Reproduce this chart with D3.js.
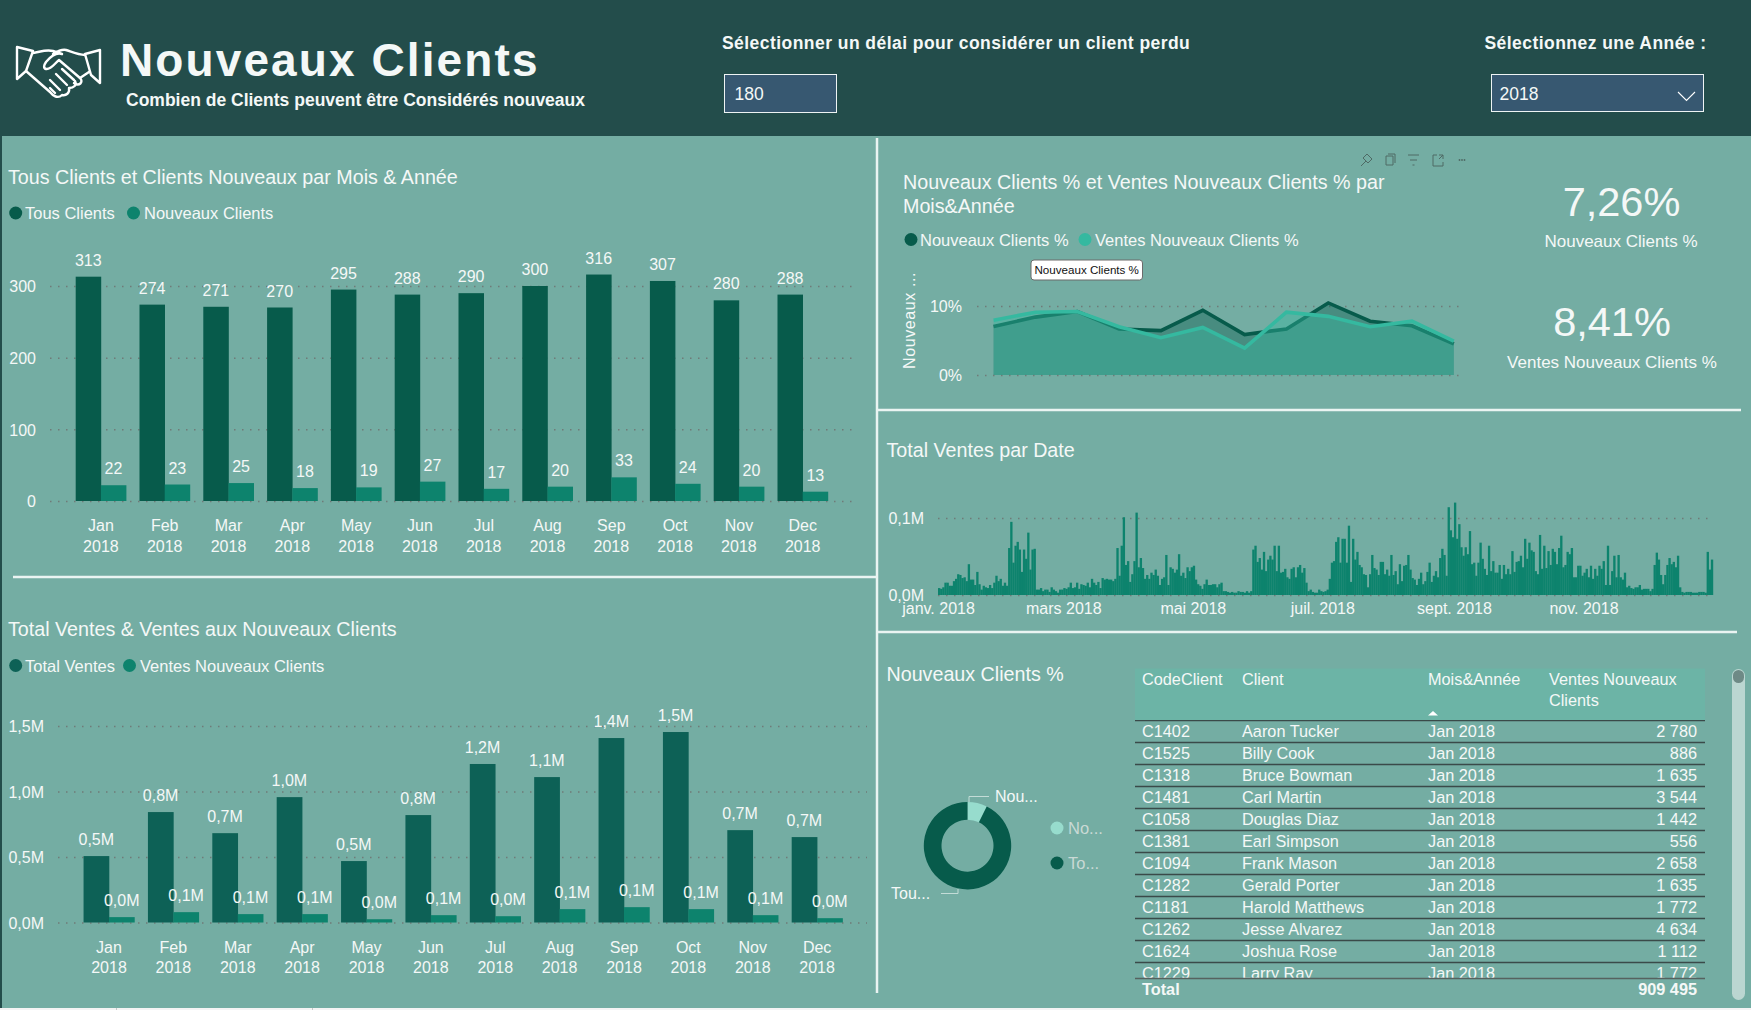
<!DOCTYPE html>
<html>
<head>
<meta charset="utf-8">
<title>Nouveaux Clients</title>
<script src="https://cdn.jsdelivr.net/npm/d3@7"></script>
<style>
  html, body { margin: 0; padding: 0; background: #f4f4f4; overflow: hidden; }
  svg { display: block; font-family: "Liberation Sans", Arial, sans-serif; }
  text { fill: #f4f8f7; }
  .grid .domain { display: none; }
  .grid line { stroke: #6f7b78; stroke-width: 1.5; stroke-dasharray: 1.5 6.5; }
  .noline .domain, .noline line { display: none; }
</style>
</head>
<body>
<svg id="chart" width="1751" height="1010"></svg>
<script>
// donnees
const months = ["Jan", "Feb", "Mar", "Apr", "May", "Jun", "Jul", "Aug", "Sep", "Oct", "Nov", "Dec"];
const tousClients = [313, 274, 271, 270, 295, 288, 290, 300, 316, 307, 280, 288];
const nouveauxClients = [22, 23, 25, 18, 19, 27, 17, 20, 33, 24, 20, 13];
const totalVentes = [0.507, 0.843, 0.682, 0.957, 0.469, 0.82, 1.21, 1.11, 1.408, 1.454, 0.705, 0.652];
const ventesNouveaux = [0.041, 0.079, 0.064, 0.064, 0.025, 0.056, 0.048, 0.102, 0.117, 0.102, 0.056, 0.033];
const pctNouveaux = [7.03, 8.39, 9.2, 6.67, 6.44, 9.38, 5.86, 6.67, 10.44, 7.8, 7.14, 4.5];
const pctVentes = [7.95, 9.1, 9.2, 7.0, 5.4, 6.9, 3.9, 9.1, 8.5, 7.0, 7.8, 4.9];
const donutValues = [7.26, 92.74];
const dateLabels = ["janv. 2018", "mars 2018", "mai 2018", "juil. 2018", "sept. 2018", "nov. 2018"];
// ventes par jour en milliers
const ventesJour = [
  9, 8, 10, 16, 16, 12, 12, 18, 21, 27, 26, 22, 23, 18, 40, 20, 20, 13, 30, 14, 7, 12, 10, 9, 13, 9, 16, 25, 18, 21,
  12, 16, 12, 61, 95, 42, 64, 69, 59, 30, 59, 47, 81, 33, 59, 60, 7, 7, 9, 5, 7, 7, 4, 10, 7, 5, 3, 7, 7, 9,
  8, 10, 16, 9, 10, 16, 8, 14, 13, 12, 16, 10, 21, 16, 13, 17, 9, 22, 20, 21, 20, 20, 18, 21, 61, 25, 64, 101, 39, 44,
  17, 27, 44, 107, 36, 48, 35, 21, 26, 21, 29, 26, 33, 25, 13, 21, 23, 52, 13, 36, 34, 29, 33, 53, 25, 29, 22, 36, 31, 36,
  38, 20, 14, 12, 8, 14, 20, 13, 13, 14, 14, 10, 14, 16, 5, 5, 4, 3, 4, 3, 3, 5, 4, 4, 3, 5, 3, 5, 59, 64,
  43, 48, 33, 56, 31, 46, 51, 46, 64, 31, 64, 29, 30, 34, 23, 21, 34, 36, 23, 36, 39, 29, 35, 16, 5, 7, 4, 3, 3, 7,
  5, 4, 5, 7, 21, 42, 44, 69, 75, 42, 73, 73, 42, 90, 17, 73, 46, 56, 39, 36, 27, 26, 10, 27, 52, 35, 33, 26, 43, 43,
  27, 33, 25, 52, 26, 31, 14, 40, 18, 38, 39, 52, 33, 22, 20, 13, 21, 29, 14, 18, 30, 42, 17, 25, 31, 23, 48, 60, 52, 25,
  114, 84, 75, 120, 73, 92, 62, 51, 62, 53, 83, 40, 42, 25, 42, 68, 47, 34, 26, 64, 31, 44, 29, 29, 39, 21, 39, 27, 34, 27,
  57, 30, 43, 44, 51, 36, 73, 47, 68, 58, 56, 31, 27, 78, 34, 64, 35, 57, 39, 60, 56, 40, 61, 77, 36, 39, 56, 53, 61, 23,
  23, 38, 38, 25, 29, 34, 23, 38, 21, 34, 25, 38, 34, 44, 13, 64, 13, 31, 51, 23, 52, 23, 20, 29, 10, 12, 9, 8, 10, 10,
  13, 7, 8, 8, 8, 5, 8, 39, 55, 46, 26, 14, 26, 39, 48, 40, 43, 36, 51, 10, 4, 3, 4, 4, 4, 3, 3, 3, 4, 4,
  4, 3, 56, 33, 46
];
const codes = ["C1402", "C1525", "C1318", "C1481", "C1058", "C1381", "C1094", "C1282", "C1181", "C1262", "C1624", "C1229"];
const clients = ["Aaron Tucker", "Billy Cook", "Bruce Bowman", "Carl Martin", "Douglas Diaz", "Earl Simpson", "Frank Mason", "Gerald Porter", "Harold Matthews", "Jesse Alvarez", "Joshua Rose", "Larry Ray"];
const ventesClient = [2780, 886, 1635, 3544, 1442, 556, 2658, 1635, 1772, 4634, 1112, 1772];

const panelColor = "#74ada3";
const headerColor = "#234d4b";
const darkColor = "#075b4b";
const midColor = "#0d836d";
const lineColor = "#35b9a0";

const fr = d3.formatLocale({ decimal: ",", thousands: " ", grouping: [3], currency: ["", "€"] });
const fmtM = function (v) { return fr.format(".1f")(v) + "M"; };

const svg = d3.select("#chart");

function label(parent, x, y, str, size, anchor, weight) {
  return parent.append("text")
    .attr("x", x).attr("y", y)
    .attr("font-size", size)
    .attr("text-anchor", anchor || "start")
    .attr("font-weight", weight || "normal")
    .text(str);
}

function legendItem(x, y, textX, str, color, size, textColor) {
  svg.append("circle").attr("cx", x).attr("cy", y).attr("r", 6.5).attr("fill", color);
  const t = label(svg, textX, y + 6, str, size || 16.5);
  if (textColor) t.style("fill", textColor);
}

// fond
svg.append("rect").attr("width", 1751).attr("height", 1008).attr("fill", panelColor);
svg.append("rect").attr("width", 1751).attr("height", 136).attr("fill", headerColor);
svg.append("rect").attr("y", 136).attr("width", 2).attr("height", 872).attr("fill", headerColor);
svg.selectAll(".foot").data([116, 312]).enter().append("rect")
  .attr("x", function (d) { return d; }).attr("y", 1008).attr("width", 1).attr("height", 2).attr("fill", "#c8c8c8");

// separateurs
const dividers = [[13, 577, 877, 577], [877, 138, 877, 993], [877, 410, 1741, 410], [877, 632, 1737, 632]];
svg.selectAll(".divider").data(dividers).enter().append("line")
  .attr("x1", function (d) { return d[0]; }).attr("y1", function (d) { return d[1]; })
  .attr("x2", function (d) { return d[2]; }).attr("y2", function (d) { return d[3]; })
  .attr("stroke", "#eaf4f2").attr("stroke-width", 2.5);

// entete
const hand = svg.append("g").attr("fill", "none").attr("stroke", "#fff").attr("stroke-width", 2.4).attr("stroke-linejoin", "round").attr("stroke-linecap", "round");
hand.append("path").attr("d", "M17,47 L33,51 L26,71 L17,79 Z");
hand.append("path").attr("d", "M100,50 L85,54 L91,75 L100,83 Z");
hand.append("path").attr("d", "M33,53 C40,52 46,49 53,51 L62,54 C56,52 51,56 46,62 C44,65 43,68 46,69 C51,70 55,63 59,60 L80,78 C84,82 79,87 74,83 M85,55 C78,55 72,52 66,50 C62,49 58,51 53,54");
hand.append("path").attr("d", "M26,71 L50,92 C53,96 58,99 62,95 C66,96 70,93 69,88 C74,88 77,85 75,81 M50,80 L60,90 M56,74 L67,85 M62,69 L74,80 M55,93 L50,88 M89,72 L80,78");

label(svg, 120, 76, "Nouveaux Clients", 46, "start", "bold").attr("letter-spacing", 2.1);
label(svg, 126, 105.5, "Combien de Clients peuvent être Considérés nouveaux", 17.5, "start", "bold");
label(svg, 722, 49, "Sélectionner un délai pour considérer un client perdu", 17.5, "start", "bold").attr("letter-spacing", 0.45);
label(svg, 1484.5, 49, "Sélectionnez une Année :", 17.5, "start", "bold").attr("letter-spacing", 0.45);

svg.append("rect").attr("x", 724.5).attr("y", 74.5).attr("width", 112).attr("height", 38).attr("fill", "#375871").attr("stroke", "#eef4f4");
label(svg, 734.5, 99.5, "180", 17.5);
svg.append("rect").attr("x", 1491.5).attr("y", 74.5).attr("width", 212).attr("height", 37).attr("fill", "#375871").attr("stroke", "#eef4f4");
label(svg, 1499.5, 99.5, "2018", 17.5);
svg.append("path").attr("d", "M1678,92 L1686.5,100.5 L1695,92").attr("fill", "none").attr("stroke", "#fff").attr("stroke-width", 1.1);

// barres groupees par mois
function drawBars(o) {
  const x = d3.scaleBand().domain(months).range(o.xRange).paddingInner(0.21).paddingOuter(0.105);
  const inner = d3.scaleBand().domain([0, 1]).range([0, x.bandwidth()]);
  const y = d3.scaleLinear().domain(o.yDomain).range(o.yRange);

  svg.append("g").attr("class", "grid")
    .attr("transform", "translate(" + o.gridX[0] + ",0)")
    .call(d3.axisLeft(y).tickValues(o.ticks).tickSize(-(o.gridX[1] - o.gridX[0])).tickPadding(o.tickPad).tickFormat(o.tickFormat))
    .selectAll("text").attr("font-size", 16).attr("font-family", "Liberation Sans").attr("fill", null).attr("dy", "0.36em");

  [o.first, o.second].forEach(function (values, s) {
    const g = svg.append("g");
    g.selectAll("rect").data(values).enter().append("rect")
      .attr("x", function (d, i) { return x(months[i]) + inner(s); })
      .attr("y", function (d) { return y(d); })
      .attr("width", inner.bandwidth() + 0.3)
      .attr("height", function (d) { return y(0) - y(d); })
      .attr("fill", s == 0 ? o.color : midColor);
    g.selectAll("text").data(values).enter().append("text")
      .attr("x", function (d, i) { return x(months[i]) + inner(s) + inner.bandwidth() / 2; })
      .attr("y", function (d) { return y(d) - 11; })
      .attr("text-anchor", "middle")
      .attr("font-size", 16)
      .text(o.labelFormat);
  });

  const axis = svg.append("g").attr("class", "noline")
    .attr("transform", "translate(0," + o.yRange[0] + ")")
    .call(d3.axisBottom(x).tickSize(0).tickFormat(""));
  axis.selectAll(".tick text").each(function (d) {
    const t = d3.select(this).attr("font-size", 16).attr("font-family", "Liberation Sans").attr("fill", null).attr("y", 0).attr("dy", 0);
    t.append("tspan").attr("x", 0).attr("y", o.xLabelDy[0]).text(d);
    t.append("tspan").attr("x", 0).attr("y", o.xLabelDy[1]).text("2018");
  });
}

label(svg, 8, 184, "Tous Clients et Clients Nouveaux par Mois & Année", 19.7);
legendItem(15.7, 213, 25, "Tous Clients", darkColor);
legendItem(133.5, 213, 144, "Nouveaux Clients", midColor);
drawBars({
  xRange: [69, 834.6], yDomain: [0, 300], yRange: [501, 286], gridX: [50, 852], ticks: [0, 100, 200, 300], tickPad: 14,
  tickFormat: d3.format("d"), first: tousClients, second: nouveauxClients, color: darkColor,
  labelFormat: function (d) { return d; }, xLabelDy: [30, 51]
});

label(svg, 8, 636, "Total Ventes & Ventes aux Nouveaux Clients", 19.7);
legendItem(15.7, 665.5, 25, "Total Ventes", "#0d6156");
legendItem(129.5, 665.5, 140, "Ventes Nouveaux Clients", midColor);
drawBars({
  xRange: [76.8, 849.3], yDomain: [0, 1.5], yRange: [922.5, 726], gridX: [58, 867], ticks: [0, 0.5, 1, 1.5], tickPad: 14,
  tickFormat: fmtM, first: totalVentes, second: ventesNouveaux, color: "#0d6156",
  labelFormat: fmtM, xLabelDy: [30, 50]
});

// courbes %
label(svg, 903, 189, "Nouveaux Clients % et Ventes Nouveaux Clients % par", 19.7);
label(svg, 903, 213, "Mois&Année", 19.7);
legendItem(911, 239.5, 920, "Nouveaux Clients %", darkColor);
legendItem(1085, 239.5, 1095, "Ventes Nouveaux Clients %", lineColor);

const xLine = d3.scalePoint().domain(months).range([993.6, 1453.8]);
const yLine = d3.scaleLinear().domain([0, 10]).range([375, 306]);
svg.append("g").attr("class", "grid")
  .attr("transform", "translate(977,0)")
  .call(d3.axisLeft(yLine).tickValues([0, 10]).tickSize(-488).tickPadding(15).tickFormat(function (d) { return d + "%"; }))
  .selectAll("text").attr("font-size", 16).attr("font-family", "Liberation Sans").attr("fill", null).attr("dy", "0.36em");

[[pctNouveaux, darkColor], [pctVentes, lineColor]].forEach(function (s) {
  const area = d3.area().x(function (d, i) { return xLine(months[i]); }).y0(yLine(0)).y1(function (d) { return yLine(d); });
  const line = d3.line().x(function (d, i) { return xLine(months[i]); }).y(function (d) { return yLine(d); });
  svg.append("path").attr("d", area(s[0])).attr("fill", s[1]).attr("fill-opacity", 0.4);
  svg.append("path").attr("d", line(s[0])).attr("fill", "none").attr("stroke", s[1]).attr("stroke-width", 3.6);
});

label(svg, 0, 0, "Nouveaux ...", 16).attr("transform", "translate(914.5,369) rotate(-90)").attr("letter-spacing", 0.6);

svg.append("rect").attr("x", 1031).attr("y", 260).attr("width", 111.5).attr("height", 20).attr("rx", 3).attr("fill", "#fff").attr("stroke", "#6b6b6b");
label(svg, 1086.7, 274, "Nouveaux Clients %", 11.6, "middle").style("fill", "#111");

// icones de la barre d'outils
const icons = svg.append("g").attr("fill", "none").attr("stroke", "#4e6a65").attr("stroke-width", 1);
icons.append("path").attr("d", "M1367,154 L1372,159 L1368,163 L1366,161 L1361,166 M1366,161 L1363,158 L1367,154");
icons.append("path").attr("d", "M1386,156 h7 v9 h-7 Z M1388,154 h7 v9");
icons.append("path").attr("d", "M1408,155 h11 M1410,160 h7 M1412.5,165 h2");
icons.append("path").attr("d", "M1433,155 h4 M1433,155 v11 h10 v-4 M1439,155 h4 v4 M1443,155 l-4,4");
svg.append("g").selectAll("circle").data([-2.5, 0, 2.5]).enter().append("circle")
  .attr("cx", function (d) { return 1462 + d; }).attr("cy", 160).attr("r", 0.9).attr("fill", "#4e6a65");

// KPI
label(svg, 1621.5, 216, "7,26%", 41.5, "middle");
label(svg, 1621, 247, "Nouveaux Clients %", 17, "middle");
label(svg, 1612, 336, "8,41%", 41.5, "middle");
label(svg, 1612, 368, "Ventes Nouveaux Clients %", 17, "middle");

// ventes par date
label(svg, 886.5, 457, "Total Ventes par Date", 19.7);
const xDay = d3.scaleBand().domain(d3.range(ventesJour.length)).range([938, 1713]);
const xDate = d3.scaleTime().domain([new Date(2018, 0, 1), new Date(2019, 0, 1)]).range([938, 1713]);
const yDay = d3.scaleLinear().domain([0, 100]).range([595, 518]);

svg.append("g").attr("class", "grid")
  .attr("transform", "translate(938,0)")
  .call(d3.axisLeft(yDay).tickValues([0, 100]).tickSize(-775).tickPadding(14).tickFormat(function (d) { return fmtM(d / 1000); }))
  .selectAll("text").attr("font-size", 16).attr("font-family", "Liberation Sans").attr("fill", null).attr("dy", "0.36em");

svg.append("g").selectAll("rect").data(ventesJour).enter().append("rect")
  .attr("x", function (d, i) { return xDay(i); })
  .attr("y", function (d) { return yDay(d); })
  .attr("width", xDay.bandwidth() + 0.2)
  .attr("height", function (d) { return yDay(0) - yDay(d); })
  .attr("fill", midColor);

svg.append("g").attr("class", "noline")
  .attr("transform", "translate(0,595)")
  .call(d3.axisBottom(xDate).tickValues(d3.timeMonth.range(new Date(2018, 0, 1), new Date(2019, 0, 1), 2)).tickSize(0).tickPadding(8)
    .tickFormat(function (d, i) { return dateLabels[i]; }))
  .selectAll("text").attr("font-size", 16).attr("font-family", "Liberation Sans").attr("fill", null);

// anneau
label(svg, 886.5, 681, "Nouveaux Clients %", 19.7);
const arc = d3.arc().innerRadius(26).outerRadius(43.7);
const pie = d3.pie().sort(null);
svg.append("g").attr("transform", "translate(967.5,845.7)")
  .selectAll("path").data(pie(donutValues)).enter().append("path")
  .attr("d", arc)
  .attr("fill", function (d, i) { return i == 0 ? "#97dccd" : darkColor; });
svg.append("path").attr("d", "M969,802 V796.5 H989").attr("fill", "none").attr("stroke", "#c3dcd7").attr("stroke-width", 1);
svg.append("path").attr("d", "M958,889 V893.5 H941").attr("fill", "none").attr("stroke", "#c3dcd7").attr("stroke-width", 1);
label(svg, 995, 802, "Nou...", 16);
label(svg, 891, 899, "Tou...", 16);
legendItem(1057, 828, 1068, "No...", "#97dccd", 16.5, "#c9d9d5");
legendItem(1057, 863, 1068, "To...", darkColor, 16.5, "#c9d9d5");

// tableau
svg.append("rect").attr("x", 1135).attr("y", 668.5).attr("width", 570).attr("height", 51.5).attr("fill", "#6cb4a6");
label(svg, 1142, 685, "CodeClient", 16.3);
label(svg, 1242, 685, "Client", 16.3);
label(svg, 1428, 685, "Mois&Année", 16.3);
label(svg, 1549, 685, "Ventes Nouveaux", 16.3);
label(svg, 1549, 706, "Clients", 16.3);
svg.append("path").attr("d", "M1433,711 L1438,715.5 H1428 Z").attr("fill", "#fff");

svg.append("clipPath").attr("id", "rowsClip").append("rect").attr("x", 1135).attr("y", 720).attr("width", 570).attr("height", 258);
const rowY = d3.scaleBand().domain(d3.range(codes.length)).range([720, 720 + 22 * codes.length]);
const rows = svg.append("g").attr("clip-path", "url(#rowsClip)").selectAll("g").data(codes).enter().append("g")
  .attr("transform", function (d, i) { return "translate(0," + rowY(i) + ")"; });
rows.append("line").attr("x1", 1135).attr("x2", 1705).attr("y1", 0.5).attr("y2", 0.5).attr("stroke", "#3a4a49").attr("stroke-width", 1.5);
rows.append("text").attr("x", 1142).attr("y", 17.3).attr("font-size", 16.3).text(function (d) { return d; });
rows.append("text").attr("x", 1242).attr("y", 17.3).attr("font-size", 16.3).text(function (d, i) { return clients[i]; });
rows.append("text").attr("x", 1428).attr("y", 17.3).attr("font-size", 16.3).text("Jan 2018");
rows.append("text").attr("x", 1697).attr("y", 17.3).attr("font-size", 16.3).attr("text-anchor", "end")
  .text(function (d, i) { return fr.format(",")(ventesClient[i]); });

svg.append("line").attr("x1", 1135).attr("x2", 1705).attr("y1", 978.5).attr("y2", 978.5).attr("stroke", "#56625f").attr("stroke-width", 1.5);
label(svg, 1142, 995, "Total", 16.3, "start", "bold");
label(svg, 1697, 995, fr.format(",")(909495), 16.3, "end", "bold");

svg.append("rect").attr("x", 1732).attr("y", 669).attr("width", 13).attr("height", 331).attr("rx", 6.5).attr("fill", "#bbd6d1");
svg.append("rect").attr("x", 1733).attr("y", 670).attr("width", 11).attr("height", 13).attr("rx", 5.5).attr("fill", "#6e8a86");
</script>
</body>
</html>
